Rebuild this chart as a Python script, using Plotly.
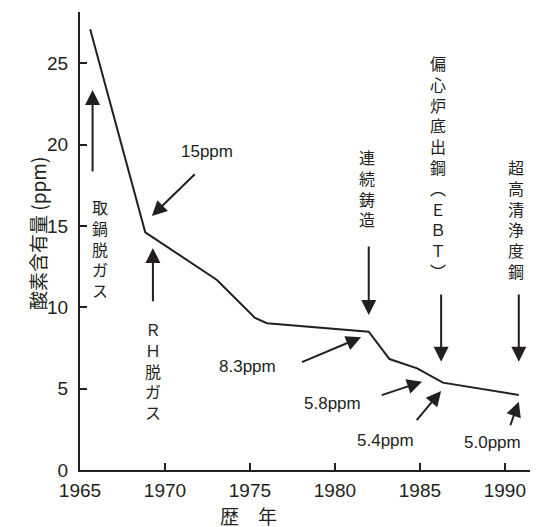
import plotly.graph_objects as go

# Data
years = [1965.6, 1968.84, 1973.06, 1975.3, 1976.0, 1981.99, 1983.21, 1984.84, 1986.35, 1990.82]
oxygen = [27.09, 14.61, 11.68, 9.35, 9.02, 8.50, 6.82, 6.25, 5.37, 4.61]

x_ticks = [1965, 1970, 1975, 1980, 1985, 1990]
y_ticks = [0, 5, 10, 15, 20, 25]

# Vertical process labels: (text chars, x, top y)
process_labels = [
    (["取", "鍋", "脱", "ガ", "ス"], 1966.19, 17.0),
    (["Ｒ", "Ｈ", "脱", "ガ", "ス"], 1969.29, 9.55),
    (["連", "続", "鋳", "造"], 1981.9, 20.1),
    (["偏", "心", "炉", "底", "出", "鋼", "︵", "Ｅ", "Ｂ", "Ｔ", "︶"], 1986.08, 25.85),
    (["超", "高", "清", "浄", "度", "鋼"], 1990.63, 19.5),
]
# Arrows: (tip x, tip y, tail x, tail y)
arrows = [
    (1965.74, 23.36, 1965.74, 18.25),
    (1969.23, 15.61, 1971.84, 18.27),
    (1969.29, 13.64, 1969.29, 10.28),
    (1981.99, 9.53, 1981.99, 13.83),
    (1981.54, 8.16, 1977.97, 6.59),
    (1986.25, 6.66, 1986.25, 10.88),
    (1985.13, 5.43, 1982.67, 4.57),
    (1986.25, 4.86, 1984.74, 2.97),
    (1990.82, 6.66, 1990.82, 10.88),
    (1990.82, 4.20, 1990.29, 2.66),
]
# ppm labels: (text, x, y)
ppm_labels = [
    ("15ppm", 1972.47, 19.56),
    ("8.3ppm", 1974.83, 6.35),
    ("5.8ppm", 1979.83, 4.10),
    ("5.4ppm", 1982.97, 1.84),
    ("5.0ppm", 1989.26, 1.68),
]

INK = "#231f20"
FONT = "Liberation Sans, Arial, Noto Sans CJK JP, sans-serif"
CJK = "Noto Sans CJK JP, Liberation Sans, sans-serif"

fig = go.Figure()
fig.add_trace(go.Scatter(x=years, y=oxygen, mode="lines",
                         line=dict(color=INK, width=2), hoverinfo="skip"))

ann = []
for chars, x, ytop in process_labels:
    ann.append(dict(x=x, y=ytop, xref="x", yref="y", text="<br>".join(chars),
                    showarrow=False, xanchor="center", yanchor="top",
                    font=dict(family=CJK, size=16, color=INK)))
for tx, ty, sx, sy in arrows:
    ann.append(dict(x=tx, y=ty, ax=sx, ay=sy, xref="x", yref="y", axref="x", ayref="y",
                    text="", showarrow=True, arrowhead=2, arrowsize=1.5, arrowwidth=2,
                    arrowcolor=INK, standoff=0, startstandoff=0))
for t, x, y in ppm_labels:
    ann.append(dict(x=x, y=y, xref="x", yref="y", text=t, showarrow=False,
                    font=dict(family=FONT, size=17, color=INK)))
ann.append(dict(x=1974.9, y=-0.1, xref="x", yref="paper", text="歴　年", showarrow=False,
                yanchor="middle", font=dict(family=CJK, size=19, color=INK)))
ann.append(dict(x=-0.1266, y=0.688, xref="paper", yref="paper", text="酸素含有量 (ppm)",
                showarrow=False, textangle=-90, font=dict(family=CJK, size=19, color=INK)))

# page body has an 8px margin, so the figure is sized to fit inside the window
fig.update_layout(
    width=530, height=519,
    margin=dict(l=72, r=0, t=4, b=57),
    paper_bgcolor="white", plot_bgcolor="white",
    showlegend=False,
    annotations=ann,
    xaxis=dict(range=[1965, 1991.95], tickvals=x_ticks, ticks="inside", ticklen=7,
               tickwidth=2, tickcolor=INK, showline=True, linecolor=INK, linewidth=2,
               showgrid=False, zeroline=False, ticklabelstandoff=2,
               tickfont=dict(family=FONT, size=19, color=INK)),
    yaxis=dict(range=[0, 28.15], tickvals=y_ticks, ticks="inside", ticklen=7,
               tickwidth=2, tickcolor=INK, showline=True, linecolor=INK, linewidth=2,
               showgrid=False, zeroline=False, ticklabelstandoff=6,
               tickfont=dict(family=FONT, size=19, color=INK)),
)

fig.write_html("out.html")
